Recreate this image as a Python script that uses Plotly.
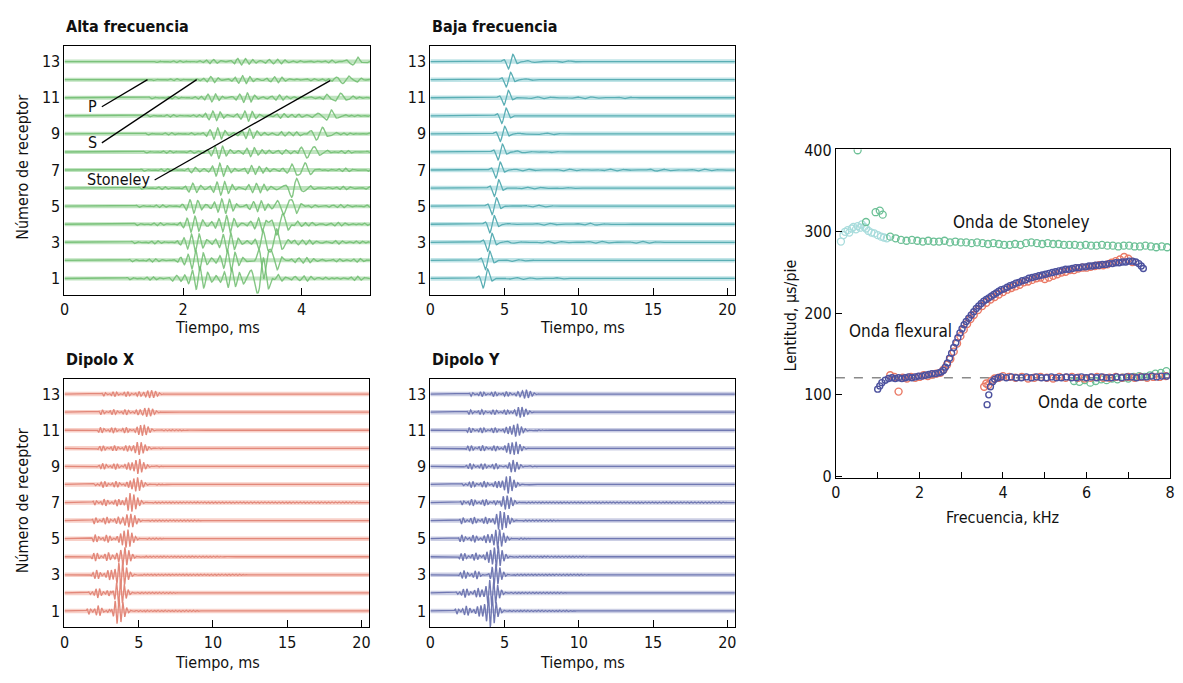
import numpy as np
import plotly.graph_objects as go

W, H = 1183, 683
FONT = "Liberation Sans Narrow, DejaVu Sans Condensed, Arial Narrow, sans-serif"

receivers = list(range(1, 14))
rec_ticks = [1, 3, 5, 7, 9, 11, 13]

# ---------------- Alta frecuencia (arrival times in ms, amplitudes in receiver units)
alta_p_arr = [1.02, 1.06, 1.10, 1.14, 1.18, 1.22, 1.26, 1.30, 1.33, 1.36, 1.39, 1.42, 1.47]
alta_s_arr = [1.72, 1.78, 1.84, 1.90, 1.95, 2.00, 2.05, 2.10, 2.15, 2.20, 2.25, 2.30, 2.35]
alta_st_arr = [3.30, 3.42, 3.52, 3.63, 3.75, 3.87, 4.00, 4.15, 4.30, 4.45, 4.60, 4.75, 4.90]
alta_p_amp = [0.10, 0.10, 0.09, 0.09, 0.08, 0.08, 0.08, 0.07, 0.07, 0.07, 0.07, 0.06, 0.06]
alta_s_amp = [0.58, 0.55, 0.50, 0.45, 0.40, 0.35, 0.31, 0.29, 0.27, 0.24, 0.22, 0.20, 0.18]
alta_st_amp = [0.95, 0.85, 0.75, 0.60, 0.52, 0.46, 0.40, 0.36, 0.33, 0.28, 0.25, 0.22, 0.20]

# ---------------- Baja frecuencia
baja_arr = [3.70, 3.85, 4.00, 4.15, 4.30, 4.45, 4.55, 4.70, 4.85, 4.95, 5.10, 5.25, 5.40]
baja_amp = [0.62, 0.60, 0.58, 0.56, 0.55, 0.54, 0.52, 0.52, 0.50, 0.50, 0.48, 0.48, 0.48]
baja_coda_end = [9.5, 8.0, 17.0, 13.5, 9.0, 10.0, 20.3, 9.0, 9.0, 7.0, 14.0, 7.5, 10.0]

# ---------------- Dipolo X
dx_onset = [1.45, 1.55, 1.60, 1.65, 1.75, 1.80, 1.85, 1.90, 2.00, 2.05, 2.10, 2.25, 2.45]
dx_packet = [3.60, 3.70, 3.85, 4.00, 4.20, 4.40, 4.60, 4.85, 5.00, 5.10, 5.30, 5.60, 5.80]
dx_pre_amp = [0.30, 0.28, 0.26, 0.24, 0.22, 0.21, 0.20, 0.18, 0.17, 0.16, 0.16, 0.15, 0.14]
dx_pk_amp = [0.75, 0.70, 0.62, 0.55, 0.50, 0.45, 0.42, 0.38, 0.35, 0.32, 0.30, 0.28, 0.26]
dx_coda_end = [9.5, 8.0, 12.5, 11.0, 7.0, 9.5, 20.3, 7.0, 7.0, 7.0, 8.5, 7.0, 7.0]

# ---------------- Dipolo Y
dy_onset = [1.60, 1.65, 1.70, 1.75, 1.80, 1.90, 1.95, 2.05, 2.10, 2.20, 2.30, 2.40, 2.55]
dy_packet = [4.10, 4.20, 4.35, 4.50, 4.60, 4.90, 5.10, 5.30, 5.50, 5.70, 5.80, 6.10, 6.40]
dy_pre_amp = [0.28, 0.26, 0.24, 0.22, 0.21, 0.20, 0.19, 0.18, 0.17, 0.16, 0.15, 0.14, 0.14]
dy_pk_amp = [0.75, 0.68, 0.62, 0.55, 0.50, 0.46, 0.43, 0.40, 0.37, 0.34, 0.31, 0.28, 0.26]
dy_coda_end = [10.0, 9.5, 11.0, 11.0, 7.0, 9.0, 20.3, 7.0, 7.5, 7.0, 8.0, 7.0, 7.0]

# ---------------- Dispersion (frequency kHz, slowness us/ft)
st_low_f = [0.12, 0.18, 0.22, 0.28, 0.32, 0.38, 0.42, 0.48, 0.52, 0.58, 0.62, 0.68, 0.72, 0.78, 0.85, 0.92, 1.00, 1.08, 1.15, 1.22]
st_low_s = [288, 296, 300, 302, 299, 304, 306, 303, 307, 305, 309, 306, 304, 301, 299, 298, 296, 294, 293, 292]
st_f = [0.52, 0.72, 0.95, 1.05, 1.12, 1.30, 1.43, 1.56, 1.69, 1.82, 1.95, 2.08, 2.21, 2.34, 2.47, 2.60, 2.73, 2.86,
        2.99, 3.12, 3.25, 3.38, 3.51, 3.64, 3.77, 3.90, 4.03, 4.16, 4.29, 4.42, 4.55, 4.68, 4.81, 4.94, 5.07, 5.20,
        5.33, 5.46, 5.59, 5.72, 5.85, 5.98, 6.11, 6.24, 6.37, 6.50, 6.63, 6.76, 6.89, 7.02, 7.15, 7.28, 7.41, 7.54,
        7.67, 7.80, 7.93]
st_s = [400, 312, 324, 326, 321, 294, 292, 290, 289, 290, 289, 288, 289, 288, 288, 289, 287, 288,
        287, 287, 286, 287, 286, 285, 286, 285, 284, 284, 285, 284, 286, 287, 286, 285, 286, 285,
        285, 284, 284, 284, 283, 284, 283, 283, 284, 283, 283, 282, 283, 283, 282, 282, 283, 282,
        281, 282, 281]
sh_green_f = [5.70, 5.83, 5.96, 6.09, 6.22, 6.35, 6.48, 6.61, 6.74, 6.87, 7.00, 7.13, 7.26, 7.39, 7.52, 7.65, 7.78, 7.91]
sh_green_s = [117, 116, 118, 115, 117, 119, 118, 120, 119, 121, 120, 122, 123, 122, 124, 126, 127, 129]

flex_blue_f = [1.00, 1.05, 1.10, 1.18, 1.26, 1.34, 1.42, 1.50, 1.58, 1.66, 1.74, 1.82, 1.90, 1.98, 2.06, 2.14,
               2.22, 2.30, 2.38, 2.46, 2.52, 2.57, 2.62, 2.67, 2.72, 2.77, 2.82, 2.87, 2.92, 2.97, 3.02, 3.07,
               3.12, 3.18, 3.24, 3.30, 3.36, 3.42, 3.48, 3.54, 3.60, 3.66, 3.72, 3.78, 3.84, 3.90, 3.96, 4.03,
               4.10, 4.17, 4.24, 4.31, 4.38, 4.46, 4.54, 4.62, 4.70, 4.78, 4.86, 4.94, 5.02, 5.10, 5.18, 5.26,
               5.34, 5.42, 5.50, 5.58, 5.66, 5.74, 5.82, 5.90, 5.98, 6.06, 6.14, 6.22, 6.30, 6.38, 6.46, 6.54,
               6.62, 6.70, 6.78, 6.86, 6.94, 7.02, 7.10, 7.18, 7.25, 7.31, 7.36]
flex_blue_s = [107, 111, 115, 118, 120, 121, 120, 121, 120, 121, 122, 121, 122, 123, 123, 124,
               125, 126, 126, 127, 128, 130, 134, 139, 145, 151, 158, 164, 170, 176, 181, 186,
               190, 194, 198, 202, 206, 209, 212, 215, 217, 219, 221, 223, 225, 227, 229, 230,
               232, 234, 235, 237, 238, 240, 241, 243, 244, 245, 246, 247, 248, 249, 250, 251,
               252, 253, 254, 254, 255, 256, 256, 257, 257, 258, 258, 259, 259, 260, 260, 261,
               261, 262, 262, 263, 263, 264, 264, 263, 261, 258, 255]
flex_red_f = [1.30, 1.40, 1.50, 1.60, 1.70, 1.80, 1.90, 2.00, 2.10, 2.20, 2.30, 2.40, 2.50, 2.58, 2.66, 2.74,
              2.82, 2.90, 2.98, 3.06, 3.14, 3.22, 3.30, 3.40, 3.50, 3.60, 3.70, 3.80, 3.90, 4.00, 4.10, 4.20,
              4.30, 4.40, 4.50, 4.60, 4.70, 4.80, 4.90, 5.00, 5.10, 5.20, 5.30, 5.40, 5.50, 5.60, 5.70, 5.80,
              5.90, 6.00, 6.10, 6.20, 6.30, 6.40, 6.50, 6.60, 6.70, 6.80, 6.90, 7.00, 7.10]
flex_red_s = [124, 122, 104, 121, 120, 122, 121, 122, 124, 123, 125, 126, 127, 131, 137, 144,
              153, 163, 172, 180, 187, 193, 198, 204, 209, 213, 217, 220, 223, 226, 229, 231,
              233, 235, 238, 239, 241, 243, 244, 242, 244, 246, 248, 250, 251, 253, 253, 255,
              256, 256, 257, 258, 259, 259, 260, 262, 264, 266, 269, 267, 263]
shear_blue_f = [3.62, 3.66, 3.70, 3.75, 3.80, 3.88, 3.96, 4.08, 4.20, 4.32, 4.44, 4.56, 4.68, 4.80, 4.92, 5.04,
                5.16, 5.28, 5.40, 5.52, 5.64, 5.76, 5.88, 6.00, 6.12, 6.24, 6.36, 6.48, 6.60, 6.72, 6.84, 6.96,
                7.08, 7.20, 7.32, 7.44, 7.56, 7.68, 7.80, 7.92]
shear_blue_s = [88, 100, 110, 116, 119, 121, 122, 121, 122, 121, 121, 122, 121, 122, 121, 121,
                122, 121, 121, 122, 121, 121, 122, 121, 122, 121, 122, 121, 121, 122, 121, 122,
                122, 121, 122, 122, 123, 122, 123, 123]
shear_red_f = [3.55, 3.60, 3.65, 3.72, 3.80, 3.90, 4.00, 4.15, 4.30, 4.45, 4.60, 4.75, 4.90, 5.05, 5.20, 5.35,
               5.50, 5.65, 5.80, 5.95, 6.10, 6.25, 6.40, 6.55, 6.70, 6.85, 7.00, 7.15, 7.30, 7.45, 7.60, 7.75, 7.90]
shear_red_s = [110, 114, 112, 117, 120, 121, 123, 122, 121, 122, 120, 121, 122, 121, 120, 122,
               121, 122, 121, 120, 121, 122, 121, 121, 122, 121, 122, 121, 122, 121, 122, 122, 123]
shear_ref = 121

# annotation pointer lines on Alta frecuencia panel (ms, receiver)
lbl_names = ["P", "S", "Stoneley"]
lbl_x0 = [0.63, 0.63, 1.52]
lbl_y0 = [10.5, 8.5, 6.45]
lbl_x1 = [1.40, 2.23, 4.48]
lbl_y1 = [12.0, 12.0, 11.95]


def px2x(px):
    return px / W


def px2y(py):
    return 1 - py / H


def ramp(t, t0, dur):
    return np.clip((t - t0) / dur, 0, 1)


fig = go.Figure()

# panel geometry (pixels)
panels = {
    1: dict(x=(60, 368), y=(38, 293)),
    2: dict(x=(429, 736), y=(38, 293)),
    3: dict(x=(60, 367), y=(379, 634)),
    4: dict(x=(429, 736), y=(379, 634)),
    5: dict(x=(838, 1175), y=(144, 481)),
}


def ax(k):
    return ("x" if k == 1 else f"x{k}"), ("y" if k == 1 else f"y{k}")


def add_band(k, tmax, color, width):
    xs, ys = [], []
    for r in receivers:
        xs += [0, tmax, None]
        ys += [r, r, None]
    xa, ya = ax(k)
    fig.add_trace(go.Scatter(x=xs, y=ys, mode="lines", line=dict(color=color, width=width),
                             xaxis=xa, yaxis=ya, hoverinfo="skip", showlegend=False))


def add_wave(k, t, sig, r, color, width):
    xa, ya = ax(k)
    fig.add_trace(go.Scatter(x=t, y=r + sig, mode="lines", line=dict(color=color, width=width),
                             xaxis=xa, yaxis=ya, hoverinfo="skip", showlegend=False))


# ---- Alta frecuencia
t1 = np.arange(0, 5.2, 0.003)
add_band(1, 5.2, "rgba(140,205,140,0.55)", 4)
for i, r in enumerate(receivers):
    tp, ts, tst = alta_p_arr[i], alta_s_arr[i], alta_st_arr[i]
    sig = alta_p_amp[i] * ramp(t1, tp, 0.05) * np.sin(2 * np.pi * 9.0 * (t1 - tp)) * (0.6 + 0.4 * np.cos(2 * np.pi * 2.3 * (t1 - tp)))
    env_s = ramp(t1, ts, 0.2) * np.exp(-np.clip(t1 - ts - 0.9, 0, None) / 0.9)
    sig += alta_s_amp[i] * env_s * np.sin(2 * np.pi * 7.5 * (t1 - ts)) * (0.65 + 0.35 * np.cos(2 * np.pi * 1.8 * (t1 - ts) + i))
    sig += alta_st_amp[i] * np.exp(-((t1 - tst) / 0.2) ** 2) * np.sin(2 * np.pi * 4.5 * (t1 - tst))
    add_wave(1, t1, sig, r, "rgba(110,188,110,0.85)", 1.4)

# ---- Baja frecuencia
t2 = np.arange(0, 20.6, 0.01)
add_band(2, 20.6, "rgba(150,210,215,0.6)", 4.5)
for i, r in enumerate(receivers):
    tc = baja_arr[i]
    sig = baja_amp[i] * np.exp(-((t2 - tc) / 0.4) ** 2) * np.sin(2 * np.pi * 1.45 * (t2 - tc))
    coda = ramp(t2, tc + 0.6, 0.3) * (1 - ramp(t2, baja_coda_end[i] - 1.0, 1.0))
    sig += 0.06 * coda * np.sin(2 * np.pi * 1.1 * (t2 - tc)) * (0.6 + 0.4 * np.cos(2 * np.pi * 0.33 * t2 + i))
    add_wave(2, t2, sig, r, "#5aaeb4", 1.3)

# ---- Dipolo X / Dipolo Y
for k, onset, packet, pre_amp, pk_amp, coda_end, band_c, wave_c in [
    (3, dx_onset, dx_packet, dx_pre_amp, dx_pk_amp, dx_coda_end, "rgba(242,170,155,0.55)", "#e2887a"),
    (4, dy_onset, dy_packet, dy_pre_amp, dy_pk_amp, dy_coda_end, "rgba(160,165,205,0.55)", "#7078b2"),
]:
    t = np.arange(0, 20.6, 0.008)
    add_band(k, 20.6, band_c, 4.5)
    for i, r in enumerate(receivers):
        t0, tc = onset[i], packet[i]
        env = ramp(t, t0, 0.2) * (1 - ramp(t, tc - 0.3, 0.6))
        sig = pre_amp[i] * env * np.sin(2 * np.pi * 4.0 * (t - t0)) * (0.6 + 0.4 * np.cos(2 * np.pi * 1.2 * (t - t0) + i))
        sig += pk_amp[i] * np.exp(-((t - tc) / 0.5) ** 2) * np.sin(2 * np.pi * 3.8 * (t - tc))
        coda = ramp(t, tc + 1.0, 0.3) * (1 - ramp(t, coda_end[i] - 0.8, 0.8))
        sig += 0.04 * coda * np.sin(2 * np.pi * 4.2 * (t - tc))
        add_wave(k, t, sig, r, wave_c, 1.3)


# ---- Dispersion
def add_pts(f, s, color, size=6, lw=1.1):
    fig.add_trace(go.Scatter(x=f, y=s, mode="markers", xaxis="x5", yaxis="y5",
                             marker=dict(symbol="circle-open", size=size, color=color, line=dict(width=lw)),
                             hoverinfo="skip", showlegend=False))


fig.add_trace(go.Scatter(x=[0, 8], y=[shear_ref, shear_ref], mode="lines", xaxis="x5", yaxis="y5",
                         line=dict(color="#8a8a8a", width=1.5, dash="dash"), hoverinfo="skip", showlegend=False))
add_pts(st_low_f, st_low_s, "#a8dcdc", 7, 1.3)
add_pts(st_f, st_s, "#6cc096", 7, 1.3)
add_pts(sh_green_f, sh_green_s, "#6cc096", 7, 1.3)
add_pts(flex_red_f, flex_red_s, "#ea7a66", 7, 1.4)
add_pts(shear_red_f, shear_red_s, "#ea7a66", 7, 1.4)
add_pts(flex_blue_f, flex_blue_s, "#4c519e", 6, 1.4)
add_pts(shear_blue_f, shear_blue_s, "#4c519e", 6, 1.4)

# ---- axes
axis_common = dict(showline=True, linecolor="black", linewidth=1.2, mirror=True, showgrid=False,
                   zeroline=False, tickfont=dict(family=FONT, size=16, color="#111"), ticks="inside",
                   ticklen=7, tickcolor="black", tickwidth=1.2)
layout = dict(width=W, height=H, margin=dict(l=0, r=0, t=0, b=0), paper_bgcolor="white",
              plot_bgcolor="white", font=dict(family=FONT, size=16, color="#111"), showlegend=False)
for k in range(1, 6):
    p = panels[k]
    sx = "" if k == 1 else str(k)
    xa = dict(axis_common, domain=[px2x(p["x"][0]), px2x(p["x"][1])], anchor=f"y{sx}")
    ya = dict(axis_common, domain=[px2y(p["y"][1]), px2y(p["y"][0])], anchor=f"x{sx}")
    if k == 1:
        xa.update(range=[0, 5.15], tickvals=[0, 2, 4])
    elif k in (2, 3, 4):
        xa.update(range=[0, 20.5], tickvals=[0, 5, 10, 15, 20])
    if k <= 4:
        ya.update(range=[0.1, 13.86], tickvals=rec_ticks, ticks="")
    else:
        xa.update(range=[0, 8], tickvals=[0, 1, 2, 3, 4, 5, 6, 7, 8],
                  ticktext=["0", "", "2", "", "4", "", "6", "", "8"], ticklen=6)
        ya.update(range=[-2, 401], tickvals=[0, 100, 200, 300, 400], ticklen=6)
    layout[f"xaxis{sx}"] = xa
    layout[f"yaxis{sx}"] = ya
fig.update_layout(**layout)

# ---- text
ann = []


def txt(s, xpx, ypx, size=16, bold=False, xanchor="center", angle=0):
    ann.append(dict(text=f"<b>{s}</b>" if bold else s, x=px2x(xpx), y=px2y(ypx), xref="paper", yref="paper",
                    showarrow=False, xanchor=xanchor, yanchor="middle", textangle=angle,
                    font=dict(family=FONT, size=size, color="#111")))


txt("Alta frecuencia", 60, 18, 16, True, "left")
txt("Baja frecuencia", 429, 18, 16, True, "left")
txt("Dipolo X", 60, 359, 16, True, "left")
txt("Dipolo Y", 429, 359, 16, True, "left")
txt("Tiempo, ms", 214, 327)
txt("Tiempo, ms", 582, 327)
txt("Tiempo, ms", 214, 670)
txt("Tiempo, ms", 582, 670)
txt("Número de receptor", 18, 162, angle=-90)
txt("Número de receptor", 18, 504, angle=-90)
txt("Lentitud, µs/pie", 792, 314, angle=-90)
txt("Frecuencia, kHz", 1006, 521)

for name, x0, y0 in zip(lbl_names, lbl_x0, lbl_y0):
    ann.append(dict(text=name, x=x0 - 0.04, y=y0, xref="x", yref="y", showarrow=False, xanchor="right",
                    yanchor="middle", font=dict(family=FONT, size=16, color="#111")))
for name, fx, sy in [("Onda de Stoneley", 4.44, 312), ("Onda flexural", 1.55, 178), ("Onda de corte", 6.15, 91)]:
    ann.append(dict(text=name, x=fx, y=sy, xref="x5", yref="y5", showarrow=False, xanchor="center",
                    yanchor="middle", font=dict(family=FONT, size=17, color="#111")))
fig.update_layout(annotations=ann)

shapes = []
for x0, y0, x1, y1 in zip(lbl_x0, lbl_y0, lbl_x1, lbl_y1):
    shapes.append(dict(type="line", xref="x", yref="y", x0=x0, y0=y0, x1=x1, y1=y1,
                       line=dict(color="black", width=1.3)))
fig.update_layout(shapes=shapes)

page_css = ("document.documentElement.style.margin='0';document.body.style.margin='0';"
            "document.body.style.padding='0';document.documentElement.style.overflow='hidden';"
            "document.body.style.overflow='hidden';")
fig.write_html("out.html", post_script=page_css, config={"displayModeBar": False})
